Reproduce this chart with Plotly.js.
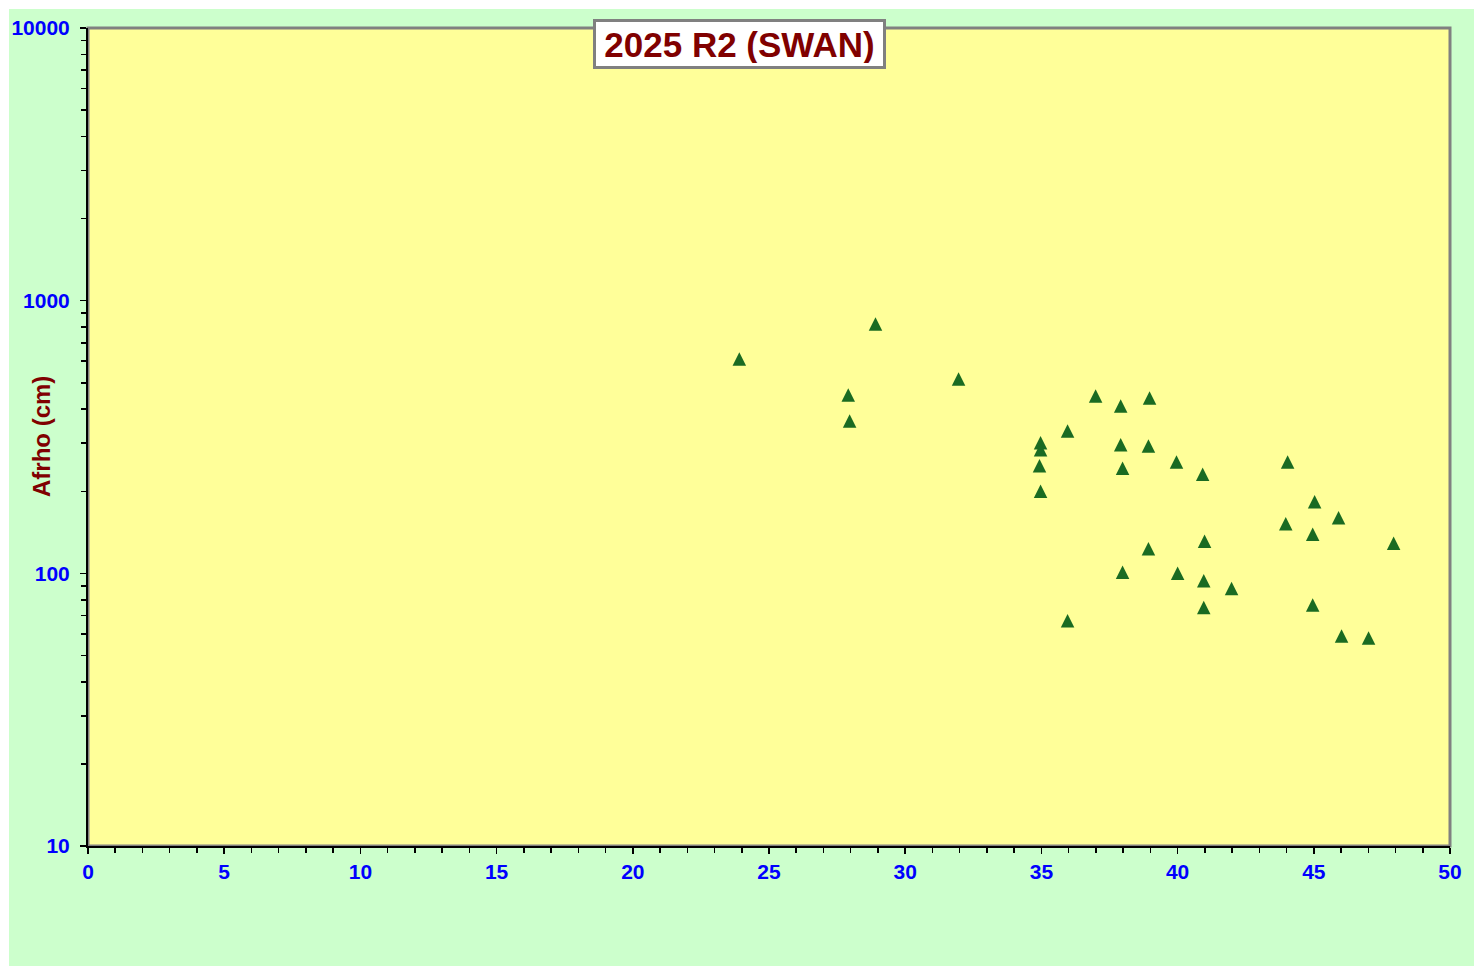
<!DOCTYPE html>
<html>
<head>
<meta charset="utf-8">
<script src="https://cdn.plot.ly/plotly-3.0.1.min.js"></script>
<style>
  html, body { margin: 0; padding: 0; background: #ffffff; width: 1480px; height: 973px; overflow: hidden; }
  #chart { position: absolute; left: 9px; top: 9px; width: 1465px; height: 957px; }
</style>
</head>
<body>
<div id="chart"></div>
<script>
// Days (x) vs Afrho in cm (y)
const days = [23.91, 28.91, 27.91, 27.96, 31.96,
  36.99, 37.91, 38.97, 35.96, 34.97, 34.97, 34.93, 34.97,
  37.91, 38.93, 37.98, 39.96, 40.92, 40.99, 38.93, 37.98,
  40.00, 40.96, 41.98, 40.96, 35.96,
  44.04, 45.03, 45.91, 43.97, 44.96, 47.93, 44.96, 46.02, 47.01];
const afrho = [611, 821, 451, 362, 516,
  447, 411, 440, 333, 301, 284, 248, 200,
  296, 293, 243, 256, 231, 131, 123, 101,
  100, 94, 88, 75, 67,
  256, 183, 160, 152, 139, 129, 76.5, 58.9, 57.9];

const chartTitle = '2025 R2 (SWAN)';
const yTitle = 'Afrho (cm)';

const FONT = 'Liberation Sans, Arial, sans-serif';
const MARKER = 13.5;

const trace = {
  type: 'scatter',
  mode: 'markers',
  x: days,
  y: afrho,
  marker: {
    symbol: 'arrow-down',
    angle: 180,
    standoff: MARKER / 2,
    size: MARKER,
    color: '#1a6b22',
    line: { width: 0 }
  },
  hoverinfo: 'x+y',
  showlegend: false
};

const layout = {
  width: 1465,
  height: 957,
  margin: { l: 79, r: 24, t: 19, b: 120, pad: 0 },
  paper_bgcolor: '#ccffcc',
  plot_bgcolor: '#ffff99',
  showlegend: false,
  xaxis: {
    range: [0, 50],
    autorange: false,
    dtick: 5,
    tick0: 0,
    ticks: 'outside',
    ticklen: 6,
    tickwidth: 1.5,
    tickcolor: '#000000',
    showline: true,
    linecolor: '#000000',
    linewidth: 2,
    showgrid: false,
    zeroline: false,
    ticklabelstandoff: 0,
    tickfont: { family: FONT, size: 21, color: '#0000ff', weight: 'bold' },
    minor: { dtick: 1, ticks: 'outside', ticklen: 5, tickwidth: 1.5, tickcolor: '#000000', showgrid: false }
  },
  yaxis: {
    type: 'log',
    range: [1, 4],
    autorange: false,
    dtick: 1,
    tickformat: 'd',
    ticks: 'outside',
    ticklen: 6,
    tickwidth: 1.5,
    tickcolor: '#000000',
    showline: true,
    linecolor: '#000000',
    linewidth: 2,
    showgrid: false,
    zeroline: false,
    ticklabelstandoff: 6,
    tickfont: { family: FONT, size: 21, color: '#0000ff', weight: 'bold' },
    minor: { dtick: 'D1', ticks: 'outside', ticklen: 5, tickwidth: 1.5, tickcolor: '#000000', showgrid: false }
  },
  shapes: [{
    type: 'rect', xref: 'paper', yref: 'paper', x0: 0, x1: 1, y0: 0, y1: 1,
    line: { color: '#808080', width: 3 }, layer: 'below'
  }],
  annotations: [
    {
      text: chartTitle,
      xref: 'paper', yref: 'paper',
      x: 0.4787, y: 0.9804,
      xanchor: 'center', yanchor: 'middle',
      showarrow: false,
      font: { family: FONT, size: 35, color: '#800000', weight: 'bold' },
      bgcolor: '#ffffff',
      bordercolor: '#808080',
      borderwidth: 3,
      borderpad: 3,
      width: 281,
      height: 38
    },
    {
      text: yTitle,
      xref: 'paper', yref: 'paper',
      x: 0, y: 0.5,
      xshift: -47,
      xanchor: 'center', yanchor: 'middle',
      textangle: -90,
      showarrow: false,
      font: { family: FONT, size: 24, color: '#800000', weight: 'bold' }
    }
  ]
};

Plotly.newPlot('chart', [trace], layout, { displayModeBar: false, staticPlot: true });
</script>
</body>
</html>
